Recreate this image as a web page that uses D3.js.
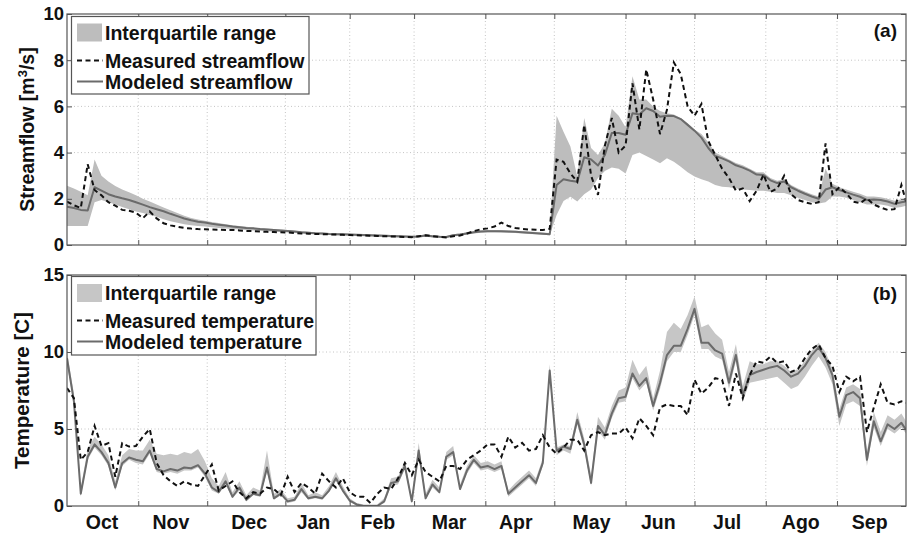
<!DOCTYPE html>
<html><head><meta charset="utf-8">
<script src="https://cdn.jsdelivr.net/npm/d3@7"></script>
<style>body{margin:0;background:#fff}</style>
</head><body><svg id="c" width="908" height="534"></svg>
<script>
// ---------- DATA (sampled every 3 days from Oct 1, last point = Sep 30) ----------
const days = d3.range(0, 364, 3).concat([365]);
const months = ["Oct","Nov","Dec","Jan","Feb","Mar","Apr","May","Jun","Jul","Ago","Sep"];
const monthLabelDays = [15,45,79,107,135,166,195,228,257,287,319,349];
const monthBoundaryDays = [31,61,95,123,151,182,212,243,273,304,335];
const flowTicks = [0,2,4,6,8,10];
const tempTicks = [0,5,10,15];

const flowModeled = [1.66,1.6,1.52,1.49,2.5,2.35,2.2,2.1,2.02,1.95,
 1.85,1.75,1.64,1.55,1.46,1.35,1.25,1.15,1.07,1.01,
 0.97,0.92,0.88,0.84,0.8,0.77,0.74,0.72,0.69,0.67,
 0.65,0.63,0.61,0.58,0.55,0.53,0.51,0.5,0.48,0.47,
 0.46,0.45,0.44,0.43,0.42,0.41,0.4,0.39,0.38,0.37,
 0.36,0.37,0.41,0.38,0.36,0.35,0.42,0.45,0.5,0.55,
 0.58,0.6,0.6,0.59,0.58,0.57,0.55,0.53,0.51,0.49,
 0.47,2.6,2.85,2.78,2.74,3.8,3.7,3.44,3.9,4.85,
 4.85,4.77,5.7,5.65,5.92,5.8,5.55,5.6,5.58,5.45,
 5.2,4.95,4.65,4.2,3.85,3.75,3.62,3.45,3.35,3.22,
 3.05,3.03,2.8,2.68,2.75,2.5,2.35,2.22,2.1,2.0,
 2.4,2.5,2.38,2.28,2.18,2.09,1.95,1.97,1.95,1.88,
 1.78,1.85,1.88];
const flowMeasured = [1.88,1.72,1.6,3.5,2.38,2.15,1.85,1.7,1.52,1.48,
 1.4,1.16,1.45,1.15,0.94,0.85,0.79,0.74,0.71,0.69,
 0.68,0.67,0.66,0.65,0.65,0.63,0.61,0.6,0.58,0.57,
 0.56,0.55,0.54,0.52,0.5,0.49,0.48,0.47,0.46,0.45,
 0.44,0.43,0.42,0.41,0.4,0.39,0.38,0.37,0.36,0.35,
 0.34,0.38,0.42,0.38,0.35,0.33,0.38,0.41,0.5,0.6,
 0.68,0.72,0.8,0.97,0.82,0.74,0.7,0.67,0.66,0.65,
 0.7,3.7,3.6,3.1,2.74,5.2,3.0,2.17,4.3,5.5,
 4.0,4.3,7.0,5.0,7.6,6.3,4.8,5.85,7.9,7.4,
 6.0,5.6,6.1,4.5,3.9,3.3,2.9,2.35,2.45,1.9,
 2.35,3.05,2.3,2.45,3.0,2.2,1.95,1.85,1.78,1.85,
 4.4,2.2,2.5,2.25,1.88,1.81,2.02,1.75,1.62,1.52,
 1.55,2.6,1.88];
const flowUpper = [2.57,2.45,2.3,2.15,3.7,3.0,2.75,2.55,2.4,2.28,
 2.15,2.0,1.88,1.75,1.62,1.5,1.38,1.27,1.17,1.1,
 1.05,1.0,0.95,0.9,0.86,0.82,0.79,0.76,0.73,0.71,
 0.69,0.67,0.65,0.62,0.59,0.57,0.55,0.54,0.52,0.51,
 0.5,0.49,0.48,0.47,0.46,0.45,0.44,0.43,0.42,0.41,
 0.4,0.41,0.46,0.42,0.4,0.39,0.47,0.5,0.55,0.6,
 0.63,0.65,0.65,0.64,0.63,0.62,0.6,0.58,0.56,0.54,
 0.52,5.6,4.9,4.26,2.96,5.5,4.2,3.9,4.4,5.9,
 5.6,5.1,7.3,6.3,6.3,6.0,5.8,5.7,5.65,5.5,
 5.27,5.0,4.8,4.45,4.0,3.85,3.7,3.55,3.45,3.3,
 3.15,3.15,2.9,2.78,2.85,2.6,2.45,2.32,2.2,2.1,
 3.3,2.65,2.5,2.4,2.3,2.22,2.1,2.1,2.07,2.0,
 1.92,1.98,2.0];
const flowLower = [0.82,0.82,0.82,0.82,1.85,1.95,1.85,1.75,1.65,1.55,
 1.45,1.38,1.3,1.22,1.12,1.03,0.96,0.9,0.85,0.82,
 0.8,0.77,0.74,0.71,0.69,0.67,0.65,0.63,0.61,0.59,
 0.57,0.56,0.54,0.52,0.5,0.48,0.46,0.45,0.43,0.42,
 0.41,0.4,0.39,0.38,0.37,0.36,0.35,0.34,0.33,0.32,
 0.31,0.32,0.36,0.33,0.31,0.3,0.37,0.4,0.45,0.5,
 0.53,0.55,0.55,0.54,0.53,0.52,0.5,0.48,0.46,0.44,
 0.42,1.3,1.9,2.09,1.88,2.2,2.4,2.9,3.2,3.35,
 3.3,3.1,3.9,4.0,3.85,3.7,3.54,3.76,3.6,3.39,
 3.15,2.96,2.85,2.75,2.6,2.52,2.5,2.45,2.4,2.38,
 2.35,2.35,2.3,2.25,2.25,2.15,2.05,1.95,1.85,1.8,
 1.85,2.1,2.1,2.05,1.95,1.85,1.75,1.75,1.75,1.7,
 1.6,1.65,1.7];

const tempModeled = [9.6,6.8,0.8,3.2,4.0,3.5,2.8,1.2,2.78,3.15,
 3.0,2.9,3.6,2.4,2.25,2.4,2.3,2.5,2.45,2.65,
 2.1,1.2,0.9,1.6,0.6,1.2,0.4,0.8,0.7,2.5,
 0.5,0.8,0.3,0.4,1.1,0.5,0.6,0.5,1.0,1.8,
 1.0,0.35,0.1,0.0,0.0,0.0,0.3,1.5,1.6,2.6,
 0.3,3.6,0.5,1.4,0.9,3.2,3.5,1.1,2.3,3.0,
 2.5,2.6,2.4,2.6,0.8,1.2,1.6,2.0,1.5,2.8,
 8.8,3.6,3.86,3.7,5.6,4.0,1.5,5.2,4.6,6.0,
 7.0,7.1,8.6,7.8,8.3,6.5,8.0,9.8,10.4,10.4,
 11.5,12.8,10.6,10.6,10.1,9.9,8.0,9.8,7.2,8.5,
 8.7,8.85,9.0,9.1,8.8,8.4,8.6,9.1,9.8,10.3,
 9.6,8.5,5.8,7.2,7.4,7.0,3.0,5.5,4.2,5.3,
 5.0,5.4,4.95];
const tempMeasured = [7.66,7.0,3.0,3.5,5.2,3.9,4.08,1.9,4.08,3.86,
 3.9,4.5,5.0,2.8,2.0,1.6,1.3,1.6,1.4,1.3,
 2.0,2.7,1.0,1.3,1.6,0.9,0.5,0.9,0.8,1.2,
 1.1,0.7,1.9,0.9,1.5,1.2,0.8,2.1,1.6,1.2,
 1.8,0.9,0.6,0.6,0.2,0.8,1.2,1.1,1.8,2.8,
 2.0,3.0,2.2,1.9,1.6,2.6,2.6,2.4,3.0,3.3,
 3.6,4.0,4.0,3.2,4.5,3.8,4.1,3.6,3.7,4.6,
 3.8,3.4,3.8,4.3,4.3,3.6,4.6,4.8,4.6,4.7,
 4.7,5.1,4.4,5.7,5.2,4.6,6.4,6.6,6.5,6.5,
 5.9,8.2,7.3,7.7,8.3,8.2,6.5,8.6,7.0,8.5,
 9.4,9.3,9.7,9.3,9.4,8.7,8.9,9.6,10.2,10.5,
 9.6,9.1,7.4,8.4,8.1,8.4,4.8,6.4,7.9,6.7,
 6.6,6.8,6.7];
const tempUpper = [10.0,7.3,1.2,3.7,4.5,4.0,3.3,1.6,3.3,3.7,
 3.6,3.6,4.3,3.4,3.3,3.4,3.3,3.5,3.4,3.7,
 2.9,1.8,1.3,2.2,0.9,1.6,0.7,1.2,1.0,3.6,
 0.8,1.1,0.5,0.6,1.5,0.7,0.9,0.7,1.3,2.2,
 1.3,0.5,0.2,0.1,0.1,0.1,0.5,1.8,1.9,2.9,
 0.5,4.1,0.8,1.7,1.2,3.5,3.9,1.4,2.6,3.3,
 2.8,2.9,2.7,2.9,1.0,1.5,1.9,2.3,1.8,3.1,
 9.2,3.8,4.0,3.9,6.1,4.4,2.0,5.8,5.1,6.5,
 7.5,7.7,9.5,8.5,9.1,7.0,8.8,11.3,11.9,11.5,
 12.4,13.6,11.6,11.8,11.2,10.8,8.7,10.5,7.8,9.4,
 9.2,9.2,9.4,9.4,9.1,8.7,8.9,9.4,10.1,10.6,
 10.0,8.9,6.3,7.7,7.9,7.6,3.5,6.1,4.8,5.9,
 5.6,6.0,5.5];
const tempLower = [9.2,6.6,0.6,3.0,3.8,3.3,2.6,1.0,2.6,3.0,
 2.8,2.7,3.4,2.2,2.1,2.2,2.1,2.3,2.3,2.5,
 1.9,1.0,0.8,1.4,0.5,1.0,0.3,0.7,0.6,2.2,
 0.4,0.7,0.2,0.3,0.9,0.4,0.5,0.4,0.9,1.6,
 0.9,0.3,0.0,0.0,0.0,0.0,0.2,1.3,1.4,2.4,
 0.2,3.4,0.4,1.2,0.8,3.0,3.3,1.0,2.1,2.8,
 2.3,2.4,2.2,2.4,0.6,1.0,1.4,1.8,1.3,2.6,
 8.5,3.3,3.6,3.4,5.3,3.7,1.3,4.9,4.3,5.7,
 6.7,6.8,8.3,7.5,8.0,6.2,7.6,9.4,10.0,10.0,
 11.1,12.4,10.2,10.2,9.7,9.5,7.6,9.4,6.8,8.0,
 8.1,8.2,8.3,8.4,8.0,7.6,7.8,8.4,9.1,9.7,
 9.0,7.9,5.2,6.6,6.8,6.5,2.6,5.1,3.9,5.0,
 4.7,5.1,4.7];

// ---------- DRAWING ----------
const FONT = "'Liberation Sans', Arial, Helvetica, sans-serif";
const svg = d3.select("#c").style("font-family", FONT);
const L = 67, R = 906;
const x = d3.scaleLinear().domain([0, 365]).range([L, R]);

const panels = [
  {top:14, bottom:245, domain:[0,10], ticks:flowTicks, band:[flowLower, flowUpper],
   model:flowModeled, meas:flowMeasured, tag:"(a)", tagY:37, bandColor:"#bdbdbd",
   legend:{x:71.5, y:16.5, w:237.5, h:77.5, rows:[32.5,60.5,81.5],
     labels:["Interquartile range","Measured streamflow","Modeled streamflow"]},
   titleX:34, titleSize:19.5},
  {top:275, bottom:506, domain:[0,15], ticks:tempTicks, band:[tempLower, tempUpper],
   model:tempModeled, meas:tempMeasured, tag:"(b)", tagY:300, bandColor:"#c6c6c6",
   legend:{x:71.5, y:276.5, w:244.5, h:78.5, rows:[293,320.5,341.5],
     labels:["Interquartile range","Measured temperature","Modeled temperature"]},
   titleX:29, titleSize:20.5}
];

panels.forEach((p, pi) => {
  const y = d3.scaleLinear().domain(p.domain).range([p.bottom, p.top]);
  const g = svg.append("g");
  const clipId = "clip" + pi;
  svg.append("clipPath").attr("id", clipId).append("rect")
    .attr("x", L).attr("y", p.top).attr("width", R - L).attr("height", p.bottom - p.top);

  // grid
  g.append("g").selectAll("line").data(monthBoundaryDays).join("line")
    .attr("x1", d => x(d)).attr("x2", d => x(d)).attr("y1", p.top).attr("y2", p.bottom)
    .attr("stroke", "#c4c4c4").attr("stroke-width", 1).attr("stroke-dasharray", "1,2.5");
  g.append("g").selectAll("line").data(p.ticks.slice(1, -1)).join("line")
    .attr("x1", L).attr("x2", R).attr("y1", d => y(d)).attr("y2", d => y(d))
    .attr("stroke", "#c4c4c4").attr("stroke-width", 1).attr("stroke-dasharray", "1,2.5");

  const data = days.map((d, i) => ({d, lo:p.band[0][i], hi:p.band[1][i], m:p.model[i], q:p.meas[i]}));
  const plot = g.append("g").attr("clip-path", `url(#${clipId})`);
  plot.append("path").datum(data)
    .attr("d", d3.area().x(d => x(d.d)).y0(d => y(d.lo)).y1(d => y(d.hi)))
    .attr("fill", p.bandColor);
  plot.append("path").datum(data)
    .attr("d", d3.line().x(d => x(d.d)).y(d => y(d.m)))
    .attr("fill", "none").attr("stroke", "#6b6b6b").attr("stroke-width", 2)
    .attr("stroke-linejoin", "round");
  plot.append("path").datum(data)
    .attr("d", d3.line().x(d => x(d.d)).y(d => y(d.q)))
    .attr("fill", "none").attr("stroke", "#111").attr("stroke-width", 2)
    .attr("stroke-dasharray", "5,3.5");

  // axes with inward ticks
  const axL = d3.axisLeft(y).tickValues(p.ticks).tickSize(-5).tickPadding(3).tickFormat(d3.format("d"));
  const gl = g.append("g").attr("transform", `translate(${L},0)`).call(axL);
  gl.selectAll("text").style("font-size", "18.5px").style("font-weight", "bold").attr("fill", "#111").attr("x", -3);
  const axR = d3.axisRight(y).tickValues(p.ticks).tickSize(-5).tickFormat("");
  g.append("g").attr("transform", `translate(${R},0)`).call(axR);
  const axB = d3.axisBottom(x).tickValues(monthBoundaryDays).tickSize(-5).tickFormat("");
  g.append("g").attr("transform", `translate(0,${p.bottom})`).call(axB);
  const axT = d3.axisTop(x).tickValues(monthBoundaryDays).tickSize(-5).tickFormat("");
  g.append("g").attr("transform", `translate(0,${p.top})`).call(axT);
  g.selectAll(".domain").remove();
  g.selectAll(".tick line").attr("stroke", "#555");

  // frame
  g.append("rect").attr("x", L).attr("y", p.top).attr("width", R - L).attr("height", p.bottom - p.top)
    .attr("fill", "none").attr("stroke", "#555").attr("stroke-width", 1.2);

  // panel tag
  g.append("text").attr("x", 897).attr("y", p.tagY).attr("text-anchor", "end")
    .style("font-size", "19px").style("font-weight", "bold").attr("fill", "#111").text(p.tag);

  // y title
  const cy = (p.top + p.bottom) / 2;
  const t = g.append("text").attr("transform", `translate(${p.titleX},${cy}) rotate(-90)`)
    .attr("text-anchor", "middle").style("font-size", p.titleSize + "px").style("font-weight", "bold").attr("fill", "#111");
  if (pi === 0) {
    t.append("tspan").text("Streamflow [m");
    t.append("tspan").attr("dy", -7).style("font-size", "13px").text("3");
    t.append("tspan").attr("dy", 7).text("/s]");
  } else {
    t.text("Temperature [C]");
  }

  // legend
  const lg = p.legend;
  const leg = g.append("g");
  leg.append("rect").attr("x", lg.x).attr("y", lg.y).attr("width", lg.w).attr("height", lg.h)
    .attr("fill", "#fff").attr("stroke", "#555").attr("stroke-width", 1.2);
  leg.append("rect").attr("x", 77).attr("y", lg.rows[0] - 9).attr("width", 25).attr("height", 18)
    .attr("fill", p.bandColor);
  leg.append("line").attr("x1", 77).attr("x2", 103).attr("y1", lg.rows[1]).attr("y2", lg.rows[1])
    .attr("stroke", "#111").attr("stroke-width", 2).attr("stroke-dasharray", "5,3.5");
  leg.append("line").attr("x1", 77).attr("x2", 103).attr("y1", lg.rows[2]).attr("y2", lg.rows[2])
    .attr("stroke", "#6b6b6b").attr("stroke-width", 2);
  leg.selectAll("text.lab").data(lg.labels).join("text").attr("class", "lab")
    .attr("x", 105).attr("y", (d, i) => lg.rows[i] + 7)
    .style("font-size", "19.5px").style("font-weight", "bold").attr("fill", "#111").text(d => d);

  // month labels only on bottom panel
  if (pi === 1) {
    const axM = d3.axisBottom(x).tickValues(monthLabelDays).tickSize(0).tickPadding(0)
      .tickFormat((d, i) => months[i]);
    const gm = g.append("g").attr("transform", `translate(0,${p.bottom})`).call(axM);
    gm.select(".domain").remove();
    gm.selectAll("text").attr("dy", null).attr("y", 22.5).style("font-size", "19.5px")
      .style("font-weight", "bold").attr("fill", "#111");
  }
});
</script></body></html>
